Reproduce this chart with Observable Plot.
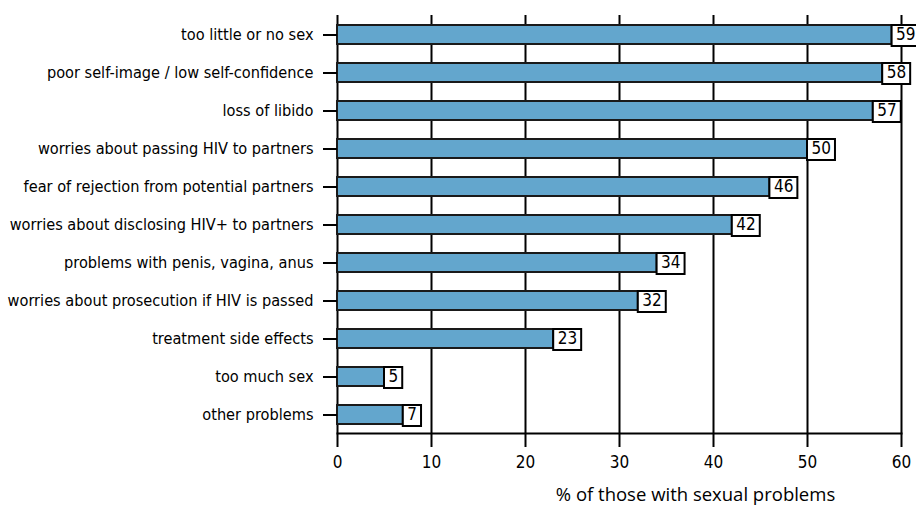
<!DOCTYPE html>
<html><head><meta charset="utf-8">
<script src="https://cdn.jsdelivr.net/npm/d3@7"></script>
<script src="https://cdn.jsdelivr.net/npm/@observablehq/plot@0.6"></script>
<style>body{margin:0;background:#fff}</style>
</head><body><div id="chart"></div>
<script>
const categories = [
  "too little or no sex",
  "poor self-image / low self-confidence",
  "loss of libido",
  "worries about passing HIV to partners",
  "fear of rejection from potential partners",
  "worries about disclosing HIV+ to partners",
  "problems with penis, vagina, anus",
  "worries about prosecution if HIV is passed",
  "treatment side effects",
  "too much sex",
  "other problems"
];
const values = [59, 58, 57, 50, 46, 42, 34, 32, 23, 5, 7];
const xTicks = [0, 10, 20, 30, 40, 50, 60];
const xLabel = "% of those with sexual problems";

const data = categories.map((c, i) => ({category: c, value: values[i]}));
const narrow = "'DejaVu Sans Condensed', 'Liberation Sans Narrow', sans-serif";

const plot = Plot.plot({
  width: 916, height: 511,
  marginLeft: 337, marginRight: 15, marginTop: 15, marginBottom: 78,
  style: {fontFamily: narrow, fontSize: "16px", color: "#000", background: "#fff", overflow: "visible"},
  x: {domain: [0, 60], ticks: xTicks, label: null},
  y: {domain: categories, paddingInner: 0.5, paddingOuter: 0.25, label: null},
  marks: [
    Plot.gridX(xTicks, {stroke: "#000", strokeOpacity: 1, strokeWidth: 2}),
    Plot.frame({anchor: "bottom", stroke: "#000", strokeWidth: 2}),
    Plot.barX(data, {x: "value", y: "category", fill: "#63a6cd", stroke: "#1a1a1a", strokeWidth: 2}),
    Plot.axisX({ticks: xTicks, tickSize: 14, tickPadding: 8, strokeWidth: 2, fontSize: 17, label: null}),
    Plot.axisY({tickSize: 14, tickPadding: 10, strokeWidth: 2, fontSize: 16.2, label: null}),
    Plot.text(data, {x: "value", y: "category", text: d => String(d.value), textAnchor: "start", dx: 4, fontSize: 17}),
    Plot.text([xLabel], {text: d => d, frameAnchor: "bottom", dx: 76, dy: 67, fontFamily: "'Open Sans', 'Liberation Sans', sans-serif", fontSize: 18.5})
  ]
});
document.getElementById("chart").appendChild(plot);

// white boxed frames behind the value labels
const xs = plot.scale("x"), ys = plot.scale("y");
const bw = ys.bandwidth;
const groups = Array.from(plot.querySelectorAll('g[aria-label="text"]'));
const g = groups.find(el => el.querySelectorAll("text").length === data.length);
if (g) {
  const gm = g.transform.baseVal.consolidate();
  const ge = gm ? gm.matrix.e : 0, gf = gm ? gm.matrix.f : 0;
  const texts = g.querySelectorAll("text");
  texts.forEach((t, i) => {
    const bb = t.getBBox();
    const d = data[i];
    const x0 = xs.apply(d.value) - ge;
    const yc = ys.apply(d.category) + bw / 2 - gf;
    const m = t.transform.baseVal.consolidate();
    const tx = m ? m.matrix.e : 0;
    const rect = document.createElementNS("http://www.w3.org/2000/svg", "rect");
    rect.setAttribute("x", x0);
    rect.setAttribute("width", tx + bb.x + bb.width + 4 - x0);
    rect.setAttribute("y", yc - (bw + 2) / 2 + 1);
    rect.setAttribute("height", bw + 2);
    rect.setAttribute("fill", "#fff");
    rect.setAttribute("stroke", "#000");
    rect.setAttribute("stroke-width", 2);
    g.insertBefore(rect, t);
  });
}
</script>
</body></html>
